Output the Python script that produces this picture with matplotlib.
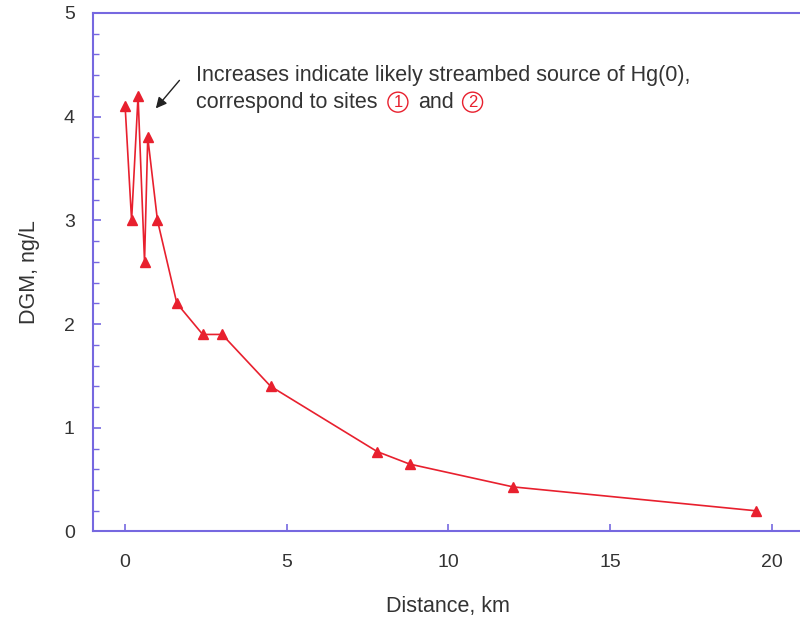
import matplotlib.pyplot as plt
from matplotlib.ticker import MultipleLocator

plt.rcParams['font.family'] = ['Liberation Sans', 'DejaVu Sans']

distance_km = [0.0, 0.2, 0.4, 0.6, 0.7, 1.0, 1.6, 2.4, 3.0, 4.5, 7.8, 8.8, 12.0, 19.5]
dgm_ng_l = [4.1, 3.0, 4.2, 2.6, 3.8, 3.0, 2.2, 1.9, 1.9, 1.4, 0.77, 0.65, 0.43, 0.2]

x_ticks = [0, 5, 10, 15, 20]
y_ticks = [0, 1, 2, 3, 4, 5]

axis_col = '#7668e0'
red = '#e8202e'
txt = '#333333'

fig = plt.figure(figsize=(8, 6.18), dpi=100)
ax = fig.add_axes([0.116, 0.14, 0.889, 0.839])

ax.plot(distance_km, dgm_ng_l, color=red, lw=1.2, marker='^',
        markersize=7.5, markerfacecolor=red, markeredgecolor=red)

ax.set_xlim(-1, 21)
ax.set_ylim(0, 5)
ax.set_xticks(x_ticks)
ax.set_yticks(y_ticks)
ax.yaxis.set_minor_locator(MultipleLocator(0.2))

for s in ax.spines.values():
    s.set_color(axis_col)
    s.set_linewidth(1.5)

ax.tick_params(axis='both', which='both', direction='in', color=axis_col,
               labelsize=14, labelcolor=txt)
ax.tick_params(axis='y', which='major', length=6, width=1.2, pad=13)
ax.tick_params(axis='y', which='minor', length=4, width=1)
ax.tick_params(axis='x', which='major', length=5, width=1.2, pad=16)

ax.set_xlabel('Distance, km', fontsize=15.5, color=txt, labelpad=18)
ax.set_ylabel('DGM, ng/L', fontsize=15.5, color=txt, labelpad=17)

ax.text(0.145, 0.88, 'Increases indicate likely streambed source of Hg(0),',
        transform=ax.transAxes, fontsize=15.5, color=txt, va='center')
ax.text(0.145, 0.828, 'correspond to sites', transform=ax.transAxes,
        fontsize=15.5, color=txt, va='center')
ax.text(0.429, 0.828, '1', transform=ax.transAxes, fontsize=12, color=red,
        ha='center', va='center',
        bbox=dict(boxstyle='circle,pad=0.15', fc='none', ec=red, lw=1))
ax.text(0.457, 0.828, 'and', transform=ax.transAxes,
        fontsize=15.5, color=txt, va='center')
ax.text(0.534, 0.828, '2', transform=ax.transAxes, fontsize=12, color=red,
        ha='center', va='center',
        bbox=dict(boxstyle='circle,pad=0.15', fc='none', ec=red, lw=1))

ax.annotate('', xy=(0.95, 4.08), xytext=(1.68, 4.35),
            arrowprops=dict(arrowstyle='-|>', color='#222222', lw=1,
                            mutation_scale=16, shrinkA=0, shrinkB=0))

fig.savefig('out.png', dpi=100)
